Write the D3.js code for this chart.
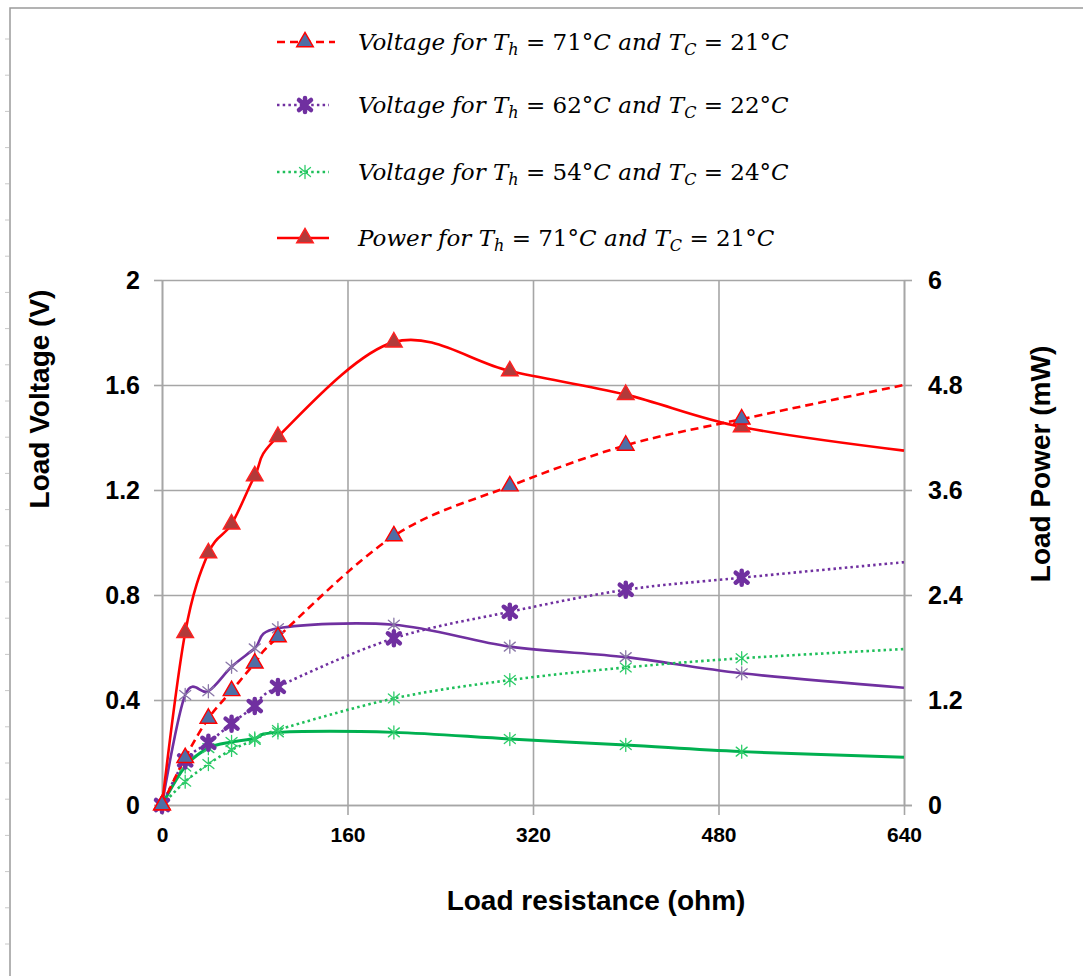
<!DOCTYPE html>
<html>
<head>
<meta charset="utf-8">
<script src="https://cdn.jsdelivr.net/npm/d3@7"></script>
<style>
  body { margin: 0; background: #fff; }
  .tick text { font-family: "Liberation Sans", Arial, sans-serif; font-weight: bold; fill: #000; }
  .axis-label { font-family: "Liberation Sans", Arial, sans-serif; font-weight: bold; font-size: 28px; }
  .legend text { font-family: "DejaVu Serif", serif; font-size: 23px; }
</style>
</head>
<body>
<div id="viz"></div>
<script>
const margin = {top: 280, right: 179, bottom: 171, left: 162};
const width = 1083;
const height = 976;

// load resistance (ohm)
const resistance = [0, 20, 40, 60, 80, 100, 200, 300, 400, 500, 640];
const unmarked = [640]; // the last point carries no marker

// load voltage (V)
const voltage71 = [0, 0.18, 0.33, 0.435, 0.54, 0.64, 1.025, 1.215, 1.37, 1.47, 1.6];
const voltage62 = [0, 0.17, 0.237, 0.31, 0.377, 0.45, 0.635, 0.736, 0.82, 0.866, 0.925];
const voltage54 = [0, 0.089, 0.156, 0.21, 0.248, 0.286, 0.406, 0.476, 0.524, 0.559, 0.594];

// load power (mW)
const power71 = [0, 1.97, 2.88, 3.21, 3.76, 4.21, 5.29, 4.96, 4.69, 4.32, 4.05];
const power62 = [0, 1.257, 1.30, 1.58, 1.79, 2.02, 2.06, 1.81, 1.69, 1.505, 1.34];
const power54 = [0, 0.44, 0.65, 0.72, 0.76, 0.83, 0.83, 0.754, 0.686, 0.61, 0.545];

const xTicks = [0, 160, 320, 480, 640];
const voltageTicks = [0, 0.4, 0.8, 1.2, 1.6, 2];
const powerTicks = [0, 1.2, 2.4, 3.6, 4.8, 6];

const series = [
  { name: 'v71', values: voltage71, axis: 'v', color: '#ff0000', width: 2.6, dash: '8,5', marker: 'triangle', markerFill: '#4f6ea6', markerStroke: '#ff0000', legend: ['Voltage', '71', '21'] },
  { name: 'v62', values: voltage62, axis: 'v', color: '#7030a0', width: 2.6, dash: '2.5,3.2', marker: 'boldstar', markerFill: 'none', markerStroke: '#7030a0', legend: ['Voltage', '62', '22'] },
  { name: 'v54', values: voltage54, axis: 'v', color: '#1fbf5a', width: 2.6, dash: '2.5,3.2', marker: 'star', markerFill: 'none', markerStroke: '#2ecc6a', legend: ['Voltage', '54', '24'] },
  { name: 'p71', values: power71, axis: 'p', color: '#ff0000', width: 2.6, dash: null, marker: 'triangle', markerFill: '#b23a3a', markerStroke: '#ff2020', legend: ['Power', '71', '21'] },
  { name: 'p62', values: power62, axis: 'p', color: '#7030a0', width: 2.6, dash: null, marker: 'star', markerFill: 'none', markerStroke: '#8a78a8', legend: null },
  { name: 'p54', values: power54, axis: 'p', color: '#00b050', width: 3, dash: null, marker: 'star', markerFill: 'none', markerStroke: '#2ecc6a', legend: null },
];

const svg = d3.select('#viz')
  .append('svg')
    .attr('viewBox', [0, 0, width, height])
    .attr('width', width)
    .attr('height', height);

svg.append('rect').attr('width', width).attr('height', height).attr('fill', '#fff');

// page border with little ruler ticks
svg.append('path')
  .attr('d', `M10,${height} V8 H${width}`)
  .attr('fill', 'none')
  .attr('stroke', '#9a9a9a')
  .attr('stroke-width', 1.5);
svg.append('g')
  .selectAll('line')
  .data(d3.range(39, height, 36.2))
  .join('line')
    .attr('x1', 5).attr('x2', 9)
    .attr('y1', d => d).attr('y2', d => d)
    .attr('stroke', '#c8c8c8');

// scales
const scaleX = d3.scaleLinear()
  .domain([0, 640])
  .range([margin.left, width - margin.right]);
const scaleV = d3.scaleLinear()
  .domain([0, 2])
  .range([height - margin.bottom, margin.top]);
const scaleP = d3.scaleLinear()
  .domain([0, 6])
  .range([height - margin.bottom, margin.top]);

const gridColor = '#a6a6a6';

// grid
svg.append('g')
  .attr('class', 'grid-y')
  .attr('transform', `translate(${margin.left},0)`)
  .call(d3.axisLeft(scaleV).tickValues(voltageTicks).tickSize(-(width - margin.left - margin.right)).tickFormat(''))
  .call(g => g.select('.domain').remove())
  .call(g => g.selectAll('line').attr('stroke', gridColor).attr('stroke-width', 1.6));
svg.append('g')
  .attr('class', 'grid-x')
  .attr('transform', `translate(0,${height - margin.bottom})`)
  .call(d3.axisBottom(scaleX).tickValues(xTicks).tickSize(-(height - margin.top - margin.bottom)).tickFormat(''))
  .call(g => g.select('.domain').remove())
  .call(g => g.selectAll('line').attr('stroke', gridColor).attr('stroke-width', 1.6));

// axes
const styleAxis = g => {
  g.select('.domain').attr('stroke', gridColor).attr('stroke-width', 1.6);
  g.selectAll('.tick line').attr('stroke', gridColor).attr('stroke-width', 1.6);
};
svg.append('g')
  .attr('transform', `translate(${margin.left},0)`)
  .call(d3.axisLeft(scaleV).tickValues(voltageTicks).tickSizeInner(8).tickSizeOuter(0).tickPadding(14).tickFormat(d3.format('')))
  .call(styleAxis)
  .call(g => g.selectAll('text').style('font-size', '25px'));
svg.append('g')
  .attr('transform', `translate(${width - margin.right},0)`)
  .call(d3.axisRight(scaleP).tickValues(powerTicks).tickSizeInner(8).tickSizeOuter(0).tickPadding(16).tickFormat(d3.format('')))
  .call(styleAxis)
  .call(g => g.selectAll('text').style('font-size', '25px'));
svg.append('g')
  .attr('transform', `translate(0,${height - margin.bottom})`)
  .call(d3.axisBottom(scaleX).tickValues(xTicks).tickSizeInner(10).tickSizeOuter(0).tickPadding(12))
  .call(styleAxis)
  .call(g => g.select('.domain').attr('d', `M${margin.left - 8},0.5H${width - margin.right + 8}`))
  .call(g => g.selectAll('text').style('font-size', '21px'));

// axis titles
svg.append('text')
  .attr('class', 'axis-label')
  .attr('text-anchor', 'middle')
  .attr('transform', `translate(49, 399) rotate(270)`)
  .text('Load Voltage (V)');
svg.append('text')
  .attr('class', 'axis-label')
  .attr('text-anchor', 'middle')
  .attr('transform', `translate(1050, 464) rotate(270)`)
  .text('Load Power (mW)');
svg.append('text')
  .attr('class', 'axis-label')
  .attr('text-anchor', 'middle')
  .attr('x', 596)
  .attr('y', 910)
  .text('Load resistance (ohm)');

// markers
const markerPath = (type) => {
  if (type === 'triangle') return d3.symbol(d3.symbolTriangle, 120)();
  if (type === 'boldstar') return 'M-6,-5L6,5M-6,5L6,-5M0,-7V7';
  return 'M-5.5,-4.5L5.5,4.5M-5.5,4.5L5.5,-4.5M0,-6.5V6.5';
};
const markerWidth = (type) => type === 'boldstar' ? 4.5 : (type === 'triangle' ? 1.4 : 1.3);

// lines
const lineFor = s => d3.line()
  .x((d, i) => scaleX(resistance[i]))
  .y(d => s.axis === 'v' ? scaleV(d) : scaleP(d))
  .curve(d3.curveCatmullRom.alpha(0));

const drawOrder = ['p54', 'p62', 'v54', 'v62', 'p71', 'v71'];
const plot = svg.append('g').attr('class', 'lines');
drawOrder.forEach(key => {
  const s = series.find(d => d.name === key);
  plot.append('path')
    .attr('d', lineFor(s)(s.values))
    .attr('fill', 'none')
    .attr('stroke', s.color)
    .attr('stroke-width', s.width)
    .attr('stroke-dasharray', s.dash);
});
drawOrder.forEach(key => {
  const s = series.find(d => d.name === key);
  const pts = s.values
    .map((v, i) => ({ r: resistance[i], v }))
    .filter(d => !unmarked.includes(d.r));
  plot.append('g')
    .selectAll('path')
    .data(pts)
    .join('path')
      .attr('transform', d => `translate(${scaleX(d.r)},${s.axis === 'v' ? scaleV(d.v) : scaleP(d.v)})`)
      .attr('d', markerPath(s.marker))
      .attr('fill', s.markerFill)
      .attr('stroke', s.markerStroke)
      .attr('stroke-width', markerWidth(s.marker))
      .attr('stroke-linecap', 'round');
});

// legend
const legendRows = [42, 105, 172, 238];
const legend = svg.append('g').attr('class', 'legend');
series.filter(s => s.legend).forEach((s, i) => {
  const y = legendRows[i];
  const row = legend.append('g');
  row.append('line')
    .attr('x1', 277).attr('x2', s.dash === '8,5' ? 335 : 329)
    .attr('y1', y).attr('y2', y)
    .attr('stroke', s.color)
    .attr('stroke-width', s.width)
    .attr('stroke-dasharray', s.dash);
  row.append('path')
    .attr('transform', `translate(305,${y})`)
    .attr('d', markerPath(s.marker))
    .attr('fill', s.markerFill)
    .attr('stroke', s.markerStroke)
    .attr('stroke-width', markerWidth(s.marker))
    .attr('stroke-linecap', 'round');

  const [qty, th, tc] = s.legend;
  const text = row.append('text').attr('x', 358).attr('y', y + 8);
  const part = (str, italic) => text.append('tspan').style('font-style', italic ? 'italic' : 'normal').text(str);
  part(`${qty} for `, true);
  part('T', true);
  text.append('tspan').attr('dy', 5).style('font-style', 'italic').style('font-size', '16px').text('h');
  text.append('tspan').attr('dy', -5).text(` = ${th}°`);
  part('C', true);
  part(' and ', true);
  part('T', true);
  text.append('tspan').attr('dy', 5).style('font-style', 'italic').style('font-size', '16px').text('C');
  text.append('tspan').attr('dy', -5).text(` = ${tc}°`);
  part('C', true);
});
</script>
</body>
</html>
